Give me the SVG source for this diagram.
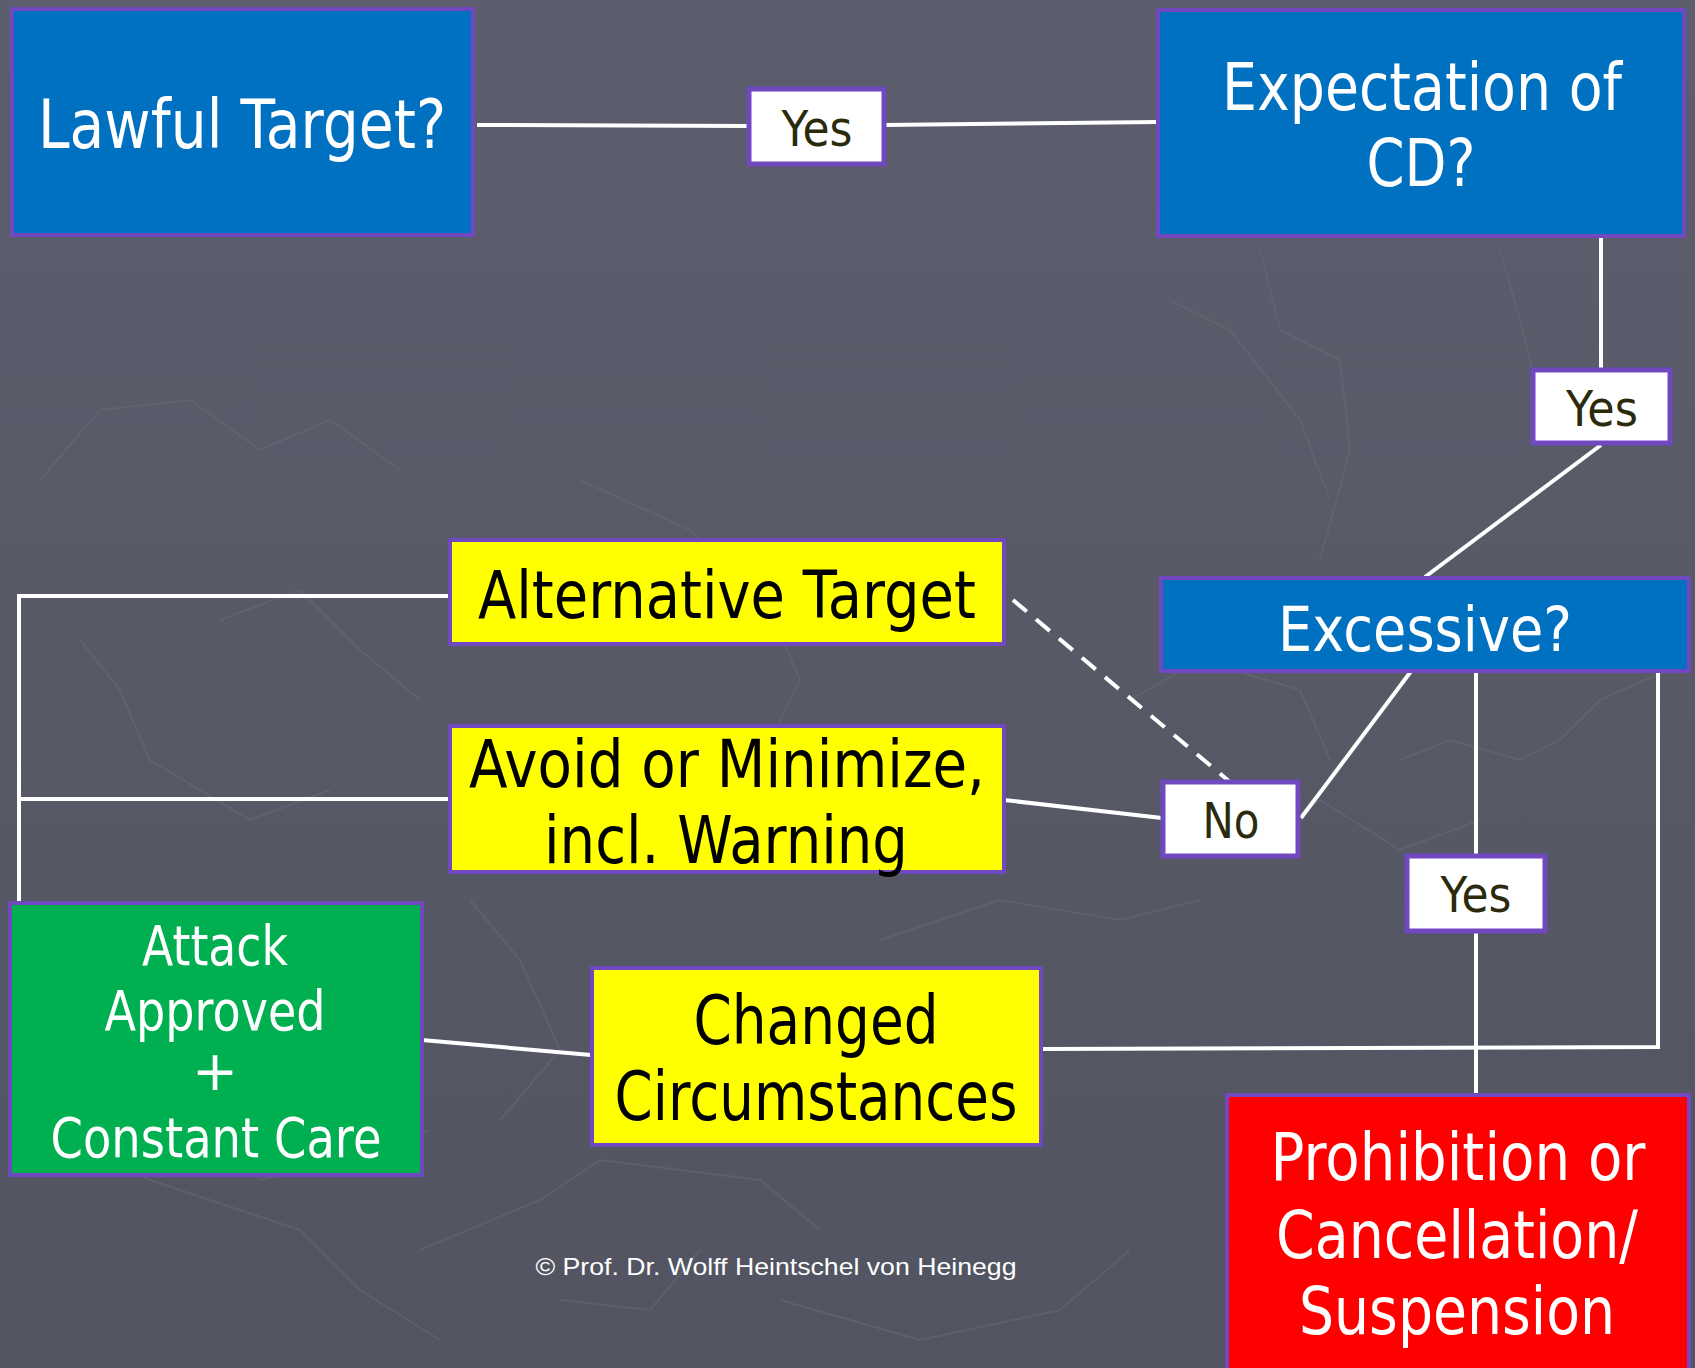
<svg xmlns="http://www.w3.org/2000/svg" width="1695" height="1368" viewBox="0 0 1695 1368">
<defs>
<linearGradient id="bg" x1="0" y1="0" x2="0" y2="1">
<stop offset="0" stop-color="#5c5e6d"/>
<stop offset="1" stop-color="#525461"/>
</linearGradient>
<style>
.box{stroke:#7048c0;stroke-width:4}
.blue{fill:#0070c0}
.yellow{fill:#ffff00}
.green{fill:#00b050}
.red{fill:#ff0000}
.label{fill:#ffffff;stroke-width:5}
.t{font-family:"DejaVu Sans",Verdana,sans-serif;text-anchor:middle}
.w{fill:#ffffff}
.k{fill:#000000}
.lt{fill:#2b2a0c}
.c{stroke:#ffffff;stroke-width:4;fill:none}
.tex{stroke:#6a6c7b;stroke-width:2;fill:none;opacity:0.45}
</style>
</defs>
<rect x="0" y="0" width="1695" height="1368" fill="url(#bg)"/>
<g id="texture">
<polyline class="tex" points="40,480 100,410 190,400 260,450 330,420 400,470"/>
<polyline class="tex" points="80,640 120,690 150,760 250,820 330,790"/>
<polyline class="tex" points="220,620 300,590 360,650 420,700"/>
<polyline class="tex" points="580,480 690,530 760,590 800,680 760,760"/>
<polyline class="tex" points="1130,700 1200,660 1300,690 1330,760"/>
<polyline class="tex" points="1250,850 1320,800 1400,850 1480,820"/>
<polyline class="tex" points="1400,760 1450,740 1520,760 1560,740 1600,700 1690,660"/>
<polyline class="tex" points="880,940 1000,900 1120,920 1200,900"/>
<polyline class="tex" points="20,1110 70,1140 150,1180 300,1230 360,1290 440,1340"/>
<polyline class="tex" points="420,1250 540,1200 600,1160 760,1180 820,1230"/>
<polyline class="tex" points="560,1300 650,1310 700,1250"/>
<polyline class="tex" points="780,1300 920,1340 1060,1310 1130,1250"/>
<polyline class="tex" points="1170,300 1230,330 1300,420 1330,500"/>
<polyline class="tex" points="1260,250 1280,330 1340,360 1350,450 1320,560"/>
<polyline class="tex" points="1500,250 1520,320 1540,400"/>
<polyline class="tex" points="470,900 520,960 560,1050 500,1120"/>
<polyline class="tex" points="200,1120 260,1180 360,1160 430,1130"/>
</g>
<g id="connectors">
<line class="c" x1="477" y1="125" x2="748" y2="126"/>
<line class="c" x1="884" y1="125" x2="1158" y2="122"/>
<line class="c" x1="1601" y1="236" x2="1601" y2="370"/>
<line class="c" x1="1601" y1="445" x2="1425" y2="577"/>
<line class="c" x1="1421" y1="658" x2="1301" y2="818"/>
<line class="c" x1="1013" y1="600" x2="1230" y2="782" stroke-dasharray="18,12"/>
<line class="c" x1="1004" y1="800" x2="1162" y2="818"/>
<line class="c" x1="1476" y1="671" x2="1476" y2="856"/>
<line class="c" x1="1476" y1="931" x2="1476" y2="1095"/>
<polyline class="c" points="1658,671 1658,1047 1041,1049"/>
<line class="c" x1="422" y1="1040" x2="591" y2="1055"/>
<polyline class="c" points="450,596 19,596 19,903"/>
<line class="c" x1="19" y1="799" x2="450" y2="799"/>
</g>
<g id="lawful-target">
<rect class="box blue" x="12" y="9" width="461" height="226"/>
<text class="t w" x="242" y="148" font-size="68" textLength="408" lengthAdjust="spacingAndGlyphs">Lawful Target?</text>
</g>
<g id="yes-1">
<rect class="box label" x="749" y="89" width="135" height="75"/>
<text class="t lt" x="817" y="146" font-size="50" textLength="71" lengthAdjust="spacingAndGlyphs">Yes</text>
</g>
<g id="expectation-cd">
<rect class="box blue" x="1158" y="10" width="526" height="226"/>
<text class="t w" x="1422" y="110" font-size="65" textLength="400" lengthAdjust="spacingAndGlyphs">Expectation of</text>
<text class="t w" x="1421" y="186" font-size="65" textLength="109" lengthAdjust="spacingAndGlyphs">CD?</text>
</g>
<g id="yes-2">
<rect class="box label" x="1533" y="370" width="137" height="73"/>
<text class="t lt" x="1602" y="426" font-size="50" textLength="72" lengthAdjust="spacingAndGlyphs">Yes</text>
</g>
<g id="excessive">
<rect class="box blue" x="1161" y="578" width="528" height="93"/>
<text class="t w" x="1425" y="651" font-size="62" textLength="294" lengthAdjust="spacingAndGlyphs">Excessive?</text>
</g>
<g id="no">
<rect class="box label" x="1163" y="782" width="135" height="74"/>
<text class="t lt" x="1231" y="838" font-size="50" textLength="57" lengthAdjust="spacingAndGlyphs">No</text>
</g>
<g id="yes-3">
<rect class="box label" x="1407" y="856" width="138" height="75"/>
<text class="t lt" x="1476" y="912" font-size="50" textLength="71" lengthAdjust="spacingAndGlyphs">Yes</text>
</g>
<g id="alternative-target">
<rect class="box yellow" x="450" y="540" width="554" height="104"/>
<text class="t k" x="727" y="618" font-size="66" textLength="498" lengthAdjust="spacingAndGlyphs">Alternative Target</text>
</g>
<g id="avoid-minimize">
<rect class="box yellow" x="450" y="726" width="554" height="146"/>
<text class="t k" x="727" y="787" font-size="66" textLength="516" lengthAdjust="spacingAndGlyphs">Avoid or Minimize,</text>
<text class="t k" x="726" y="863" font-size="66" textLength="364" lengthAdjust="spacingAndGlyphs">incl. Warning</text>
</g>
<g id="attack-approved">
<rect class="box green" x="10" y="903" width="412" height="272"/>
<text class="t w" x="215" y="965" font-size="55" textLength="146" lengthAdjust="spacingAndGlyphs">Attack</text>
<text class="t w" x="215" y="1030" font-size="55" textLength="221" lengthAdjust="spacingAndGlyphs">Approved</text>
<text class="t w" x="215" y="1090" font-size="55">+</text>
<text class="t w" x="216" y="1157" font-size="55" textLength="331" lengthAdjust="spacingAndGlyphs">Constant Care</text>
</g>
<g id="changed-circumstances">
<rect class="box yellow" x="592" y="968" width="449" height="177"/>
<text class="t k" x="816" y="1044" font-size="68" textLength="245" lengthAdjust="spacingAndGlyphs">Changed</text>
<text class="t k" x="816" y="1120" font-size="68" textLength="403" lengthAdjust="spacingAndGlyphs">Circumstances</text>
</g>
<g id="prohibition">
<rect class="box red" x="1227" y="1095" width="462" height="275"/>
<text class="t w" x="1458" y="1180" font-size="65" textLength="375" lengthAdjust="spacingAndGlyphs">Prohibition or</text>
<text class="t w" x="1457" y="1258" font-size="65" textLength="362" lengthAdjust="spacingAndGlyphs">Cancellation/</text>
<text class="t w" x="1457" y="1334" font-size="65" textLength="316" lengthAdjust="spacingAndGlyphs">Suspension</text>
</g>
<text x="776" y="1275" font-family="'Liberation Sans',Arial,sans-serif" font-size="24" fill="#ffffff" text-anchor="middle" textLength="481" lengthAdjust="spacingAndGlyphs">© Prof. Dr. Wolff Heintschel von Heinegg</text>
</svg>
